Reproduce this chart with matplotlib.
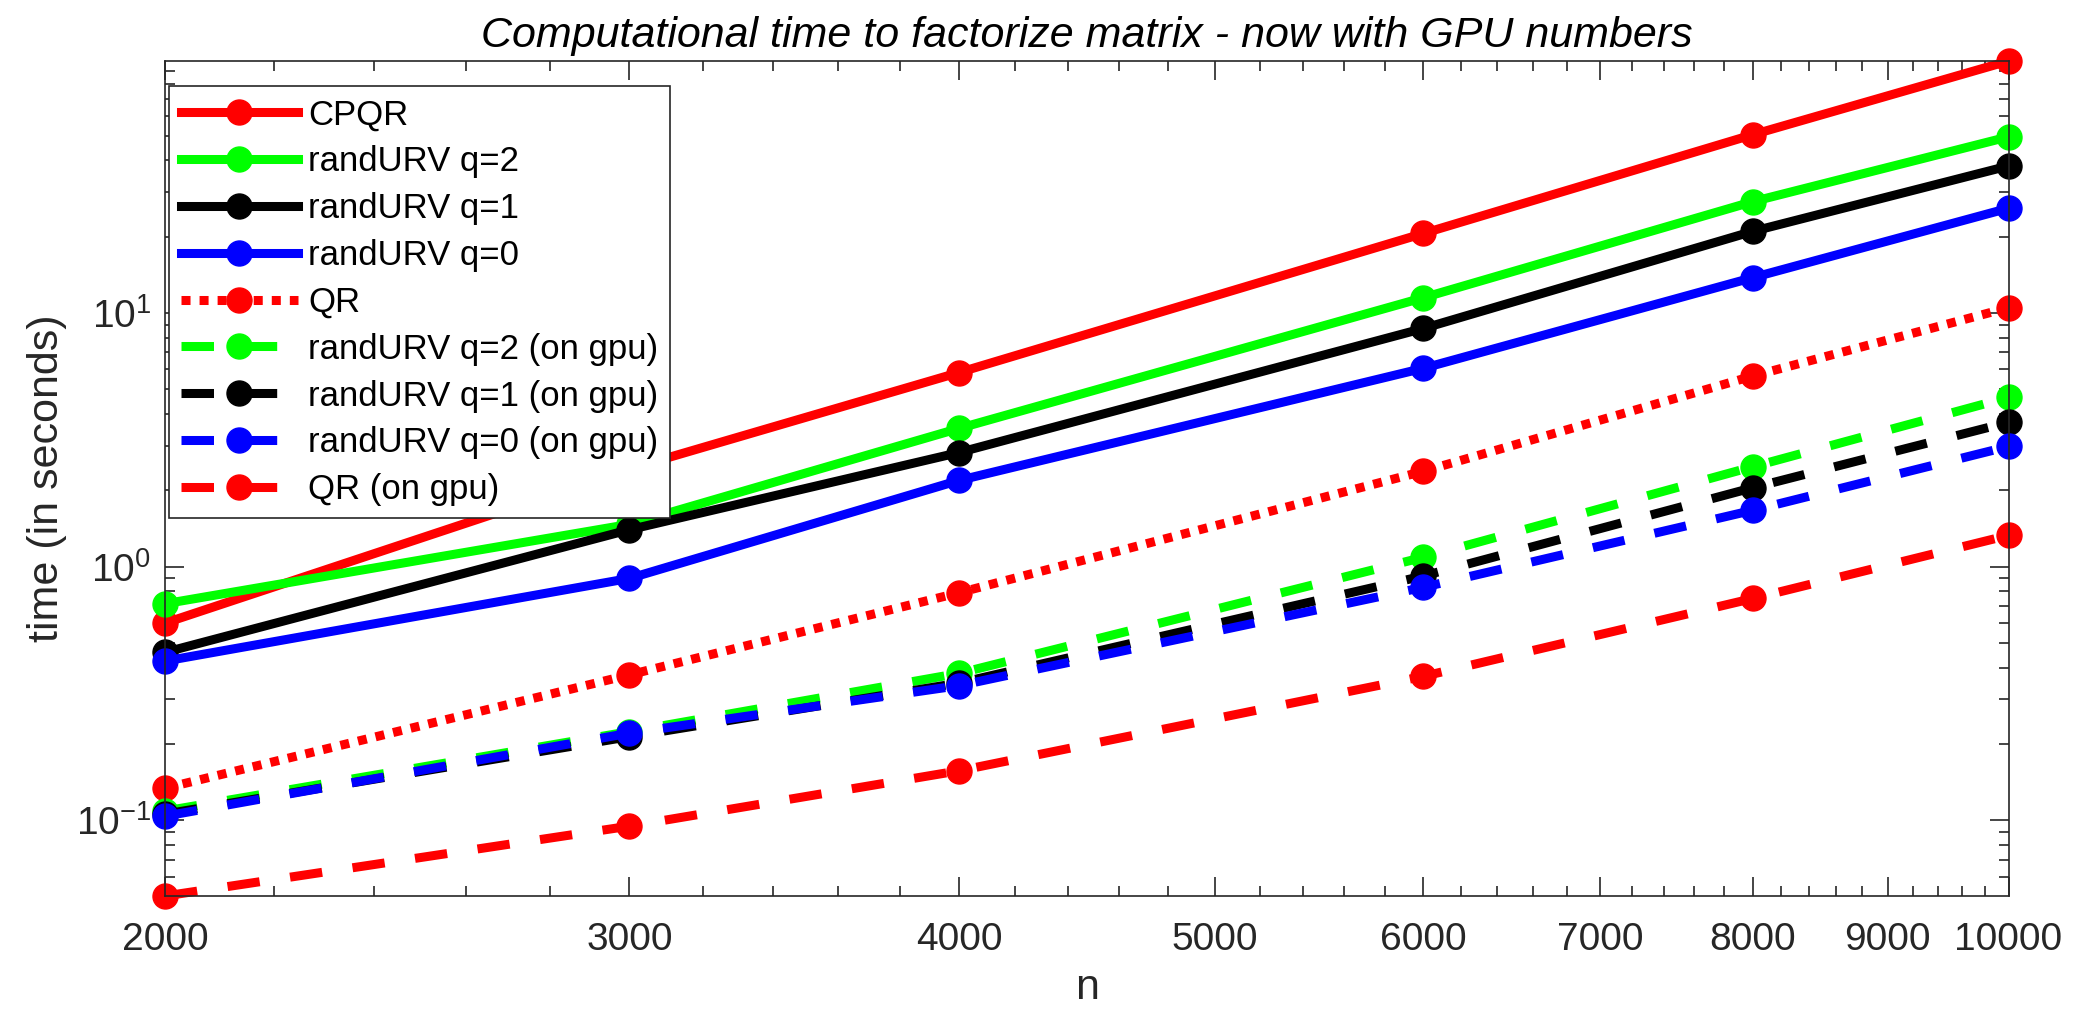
import numpy as np
import matplotlib
matplotlib.use("Agg")
import matplotlib.pyplot as plt
from matplotlib.ticker import FixedLocator, FixedFormatter, LogLocator, NullFormatter

plt.rcParams['font.family'] = ['Liberation Sans', 'DejaVu Sans']
plt.rcParams['mathtext.fontset'] = 'custom'
plt.rcParams['mathtext.rm'] = 'Liberation Sans'
plt.rcParams['axes.unicode_minus'] = False

# matrix sizes and timings (seconds)
n = [2000, 3000, 4000, 6000, 8000, 10000]
cpqr = [0.60, 2.43, 5.83, 20.6, 50.5, 98.5]
urv_q2 = [0.715, 1.47, 3.51, 11.5, 27.5, 49.5]
urv_q1 = [0.46, 1.40, 2.82, 8.7, 21.0, 38.0]
urv_q0 = [0.425, 0.90, 2.19, 6.06, 13.8, 25.9]
qr = [0.134, 0.375, 0.79, 2.38, 5.65, 10.5]
urv_q2_gpu = [0.109, 0.224, 0.38, 1.09, 2.48, 4.65]
urv_q1_gpu = [0.106, 0.214, 0.348, 0.92, 2.05, 3.71]
urv_q0_gpu = [0.104, 0.221, 0.34, 0.83, 1.67, 2.98]
qr_gpu = [0.0504, 0.095, 0.157, 0.37, 0.75, 1.33]

labels = ['CPQR', 'randURV q=2', 'randURV q=1', 'randURV q=0', 'QR',
          'randURV q=2 (on gpu)', 'randURV q=1 (on gpu)',
          'randURV q=0 (on gpu)', 'QR (on gpu)']
x_ticks = [2000, 3000, 4000, 5000, 6000, 7000, 8000, 9000, 10000]

series = [cpqr, urv_q2, urv_q1, urv_q0, qr,
          urv_q2_gpu, urv_q1_gpu, urv_q0_gpu, qr_gpu]
colors = ['#ff0000', '#00ff00', '#000000', '#0000ff', '#ff0000',
          '#00ff00', '#000000', '#0000ff', '#ff0000']
dash = (0, (3.6, 3.4))
dot = (0, (1.0, 1.0))
styles = ['-', '-', '-', '-', dot, dash, dash, dash, dash]

fig = plt.figure(figsize=(20.76, 10.10), dpi=100)
ax = fig.add_axes([0.0795, 0.1129, 0.8880, 0.8267])

for y, c, ls, lab in zip(series, colors, styles, labels):
    ax.plot(n, y, color=c, linestyle=ls, linewidth=6.5, marker='o',
            markersize=18, markeredgecolor=c, label=lab, clip_on=False,
            dash_capstyle='butt')

ax.set_xscale('log')
ax.set_yscale('log')
ax.set_xlim(min(n), max(n))
ymin = min(min(s) for s in series)
ymax = max(max(s) for s in series)
ax.set_ylim(ymin, ymax)

ax.xaxis.set_major_locator(FixedLocator(x_ticks))
ax.xaxis.set_major_formatter(FixedFormatter([str(v) for v in x_ticks]))
minor = [v for v in range(2200, 10000, 200) if v % 1000 != 0]
ax.xaxis.set_minor_locator(FixedLocator(minor))
ax.xaxis.set_minor_formatter(NullFormatter())
ax.yaxis.set_major_locator(LogLocator(base=10, numticks=10))
ax.yaxis.set_minor_locator(LogLocator(base=10, subs=np.arange(2, 10), numticks=20))
ax.yaxis.set_minor_formatter(NullFormatter())

ax.tick_params(which='both', direction='in', top=True, right=True,
               color='#262626', labelsize=28, labelcolor='#262626', width=1.2)
ax.tick_params(which='major', length=14, pad=10)
ax.tick_params(which='minor', length=7)
ax.tick_params(axis='x', pad=19)
for sp in ax.spines.values():
    sp.set_color('#262626')
    sp.set_linewidth(1.2)

ax.set_title('Computational time to factorize matrix - now with GPU numbers',
             fontsize=31, style='italic', pad=10)
ax.set_xlabel('n', fontsize=31, color='#262626', labelpad=7)
ax.set_ylabel('time (in seconds)', fontsize=31, color='#262626', labelpad=6)

leg = ax.legend(loc='upper left', bbox_to_anchor=(0.002, 0.970), fontsize=25,
                frameon=True, fancybox=False, framealpha=1, edgecolor='#262626',
                handlelength=3.37, handletextpad=0.29, borderpad=0.35,
                labelspacing=0.40, borderaxespad=0)
leg.get_frame().set_linewidth(1.2)

fig.savefig('out.png', dpi=100)
